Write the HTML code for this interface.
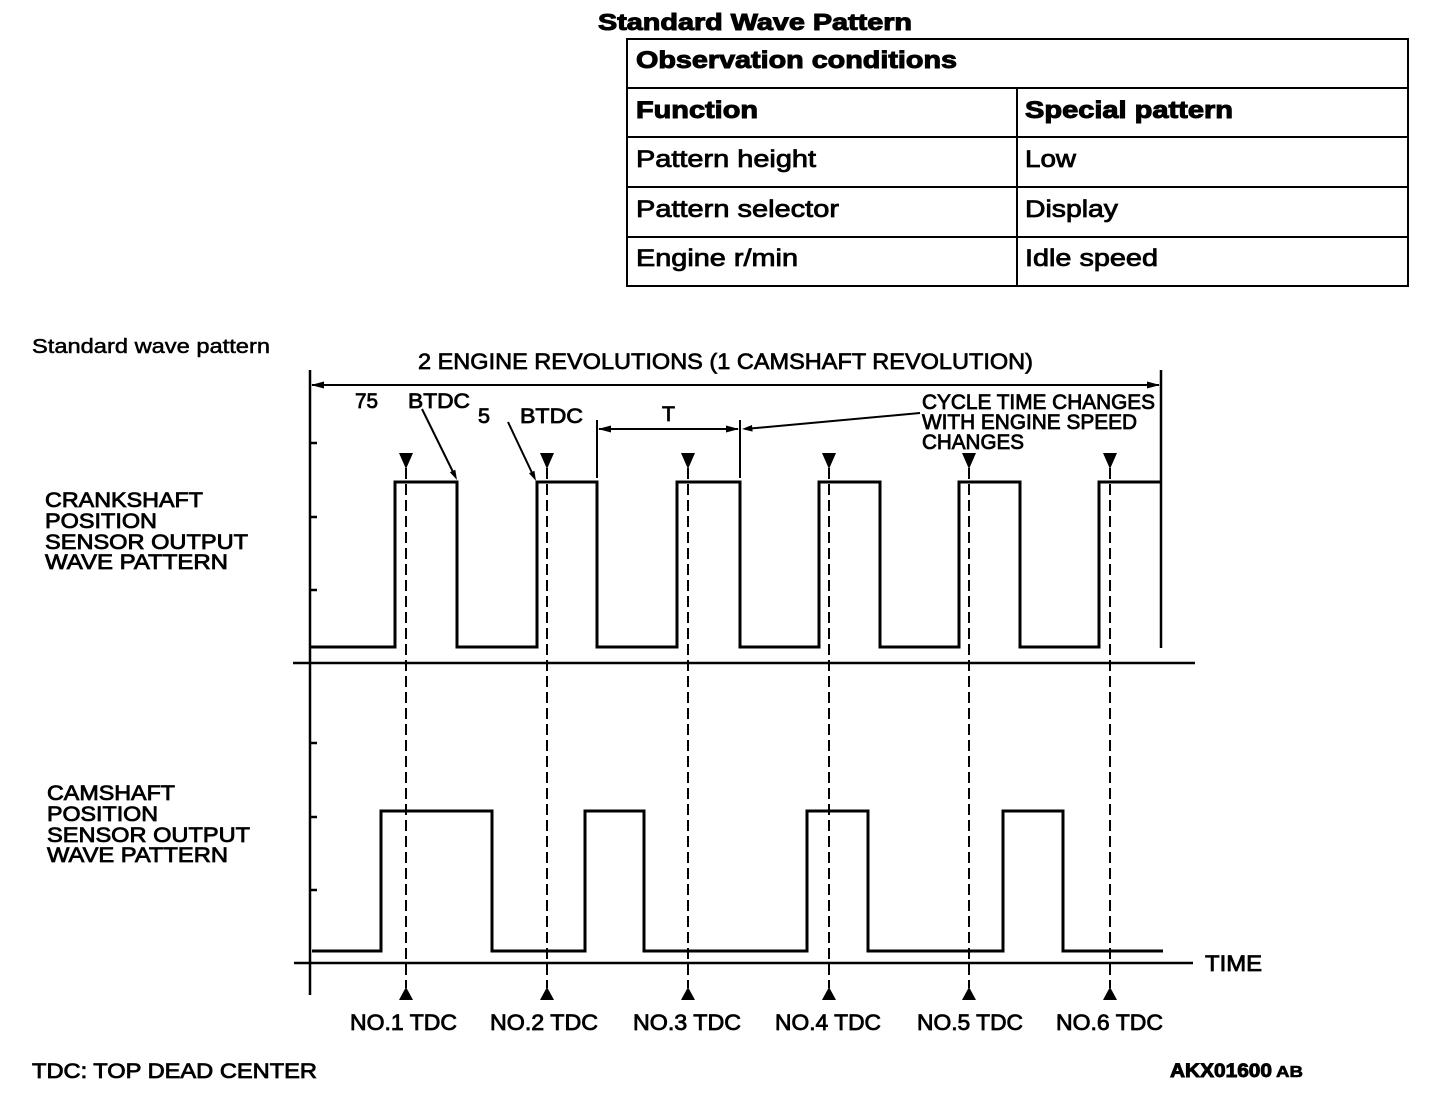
<!DOCTYPE html>
<html>
<head>
<meta charset="utf-8">
<style>
  html,body{margin:0;padding:0;background:#fff;}
  svg{display:block;}
  text{fill:#000;}
</style>
</head>
<body>
<svg width="1456" height="1104" viewBox="0 0 1456 1104" xmlns="http://www.w3.org/2000/svg" font-family="'Liberation Sans', Arial, sans-serif">
  <!-- Title -->
  <text x="598" y="30" font-size="23" font-weight="bold" stroke="#000" stroke-width="1" textLength="314" lengthAdjust="spacingAndGlyphs">Standard Wave Pattern</text>

  <!-- Table -->
  <g stroke="#000" stroke-width="2" fill="none">
    <rect x="627" y="39" width="781" height="247"/>
    <line x1="627" y1="88" x2="1408" y2="88"/>
    <line x1="627" y1="137" x2="1408" y2="137"/>
    <line x1="627" y1="187" x2="1408" y2="187"/>
    <line x1="627" y1="237" x2="1408" y2="237"/>
    <line x1="1017" y1="88" x2="1017" y2="286"/>
  </g>
  <g font-size="24">
    <text x="636" y="68" font-weight="bold" stroke="#000" stroke-width="1" textLength="321" lengthAdjust="spacingAndGlyphs">Observation conditions</text>
    <text x="636" y="118" font-weight="bold" stroke="#000" stroke-width="1" textLength="122" lengthAdjust="spacingAndGlyphs">Function</text>
    <text x="1025" y="118" font-weight="bold" stroke="#000" stroke-width="1" textLength="208" lengthAdjust="spacingAndGlyphs">Special pattern</text>
    <text x="636" y="167" stroke="#000" stroke-width="0.8" textLength="180" lengthAdjust="spacingAndGlyphs">Pattern height</text>
    <text x="1025" y="167" stroke="#000" stroke-width="0.8" textLength="51" lengthAdjust="spacingAndGlyphs">Low</text>
    <text x="636" y="217" stroke="#000" stroke-width="0.8" textLength="203" lengthAdjust="spacingAndGlyphs">Pattern selector</text>
    <text x="1025" y="217" stroke="#000" stroke-width="0.8" textLength="93" lengthAdjust="spacingAndGlyphs">Display</text>
    <text x="636" y="266" stroke="#000" stroke-width="0.8" textLength="162" lengthAdjust="spacingAndGlyphs">Engine r/min</text>
    <text x="1025" y="266" stroke="#000" stroke-width="0.8" textLength="133" lengthAdjust="spacingAndGlyphs">Idle speed</text>
  </g>

  <!-- Left labels -->
  <g font-size="20" stroke="#000" stroke-width="0.5">
    <text x="32" y="353" textLength="238" lengthAdjust="spacingAndGlyphs">Standard wave pattern</text>
  </g>
  <g font-size="21" stroke="#000" stroke-width="0.8">
    <text x="45" y="507" textLength="158" lengthAdjust="spacingAndGlyphs">CRANKSHAFT</text>
    <text x="45" y="528" textLength="112" lengthAdjust="spacingAndGlyphs">POSITION</text>
    <text x="45" y="549" textLength="203" lengthAdjust="spacingAndGlyphs">SENSOR OUTPUT</text>
    <text x="45" y="569" textLength="183" lengthAdjust="spacingAndGlyphs">WAVE PATTERN</text>

    <text x="47" y="800" textLength="128" lengthAdjust="spacingAndGlyphs">CAMSHAFT</text>
    <text x="47" y="821" textLength="111" lengthAdjust="spacingAndGlyphs">POSITION</text>
    <text x="47" y="842" textLength="203" lengthAdjust="spacingAndGlyphs">SENSOR OUTPUT</text>
    <text x="47" y="862" textLength="181" lengthAdjust="spacingAndGlyphs">WAVE PATTERN</text>

    <text x="32" y="1078" textLength="285" lengthAdjust="spacingAndGlyphs">TDC: TOP DEAD CENTER</text>
  </g>

  <!-- Top annotation -->
  <g font-size="22" stroke="#000" stroke-width="0.7">
    <text x="418" y="369" textLength="615" lengthAdjust="spacingAndGlyphs">2 ENGINE REVOLUTIONS (1 CAMSHAFT REVOLUTION)</text>
  </g>
  <g font-size="21" stroke="#000" stroke-width="0.8">
    <text x="355" y="408" textLength="23" lengthAdjust="spacingAndGlyphs">75</text>
    <text x="408" y="408" textLength="62" lengthAdjust="spacingAndGlyphs">BTDC</text>
    <text x="478" y="423" textLength="12" lengthAdjust="spacingAndGlyphs">5</text>
    <text x="520" y="423" textLength="63" lengthAdjust="spacingAndGlyphs">BTDC</text>
    <text x="662" y="421" textLength="13" lengthAdjust="spacingAndGlyphs">T</text>
    <text x="922" y="409" textLength="233" lengthAdjust="spacingAndGlyphs">CYCLE TIME CHANGES</text>
    <text x="922" y="429" textLength="215" lengthAdjust="spacingAndGlyphs">WITH ENGINE SPEED</text>
    <text x="922" y="449" textLength="102" lengthAdjust="spacingAndGlyphs">CHANGES</text>
  </g>

  <!-- Axes -->
  <g stroke="#000" stroke-width="2.5" fill="none">
    <line x1="310" y1="370" x2="310" y2="995"/>
    <line x1="293" y1="663" x2="1195" y2="663"/>
    <line x1="294" y1="963" x2="1193" y2="963"/>
    <line x1="1161" y1="370" x2="1161" y2="648"/>
    <!-- ticks -->
    <line x1="310" y1="443" x2="317" y2="443"/>
    <line x1="310" y1="517" x2="317" y2="517"/>
    <line x1="310" y1="590" x2="317" y2="590"/>
    <line x1="310" y1="743" x2="317" y2="743"/>
    <line x1="310" y1="817" x2="317" y2="817"/>
    <line x1="310" y1="890" x2="317" y2="890"/>
  </g>

  <!-- Top dimension arrow -->
  <g stroke="#000" stroke-width="2" fill="none">
    <line x1="312" y1="385" x2="1159" y2="385"/>
    <!-- T bracket -->
    <line x1="597" y1="420" x2="597" y2="478"/>
    <line x1="740" y1="420" x2="740" y2="478"/>
    <line x1="599" y1="429" x2="738" y2="429"/>
    <!-- leaders -->
    <line x1="422" y1="409" x2="455" y2="476"/>
    <line x1="508" y1="422" x2="534" y2="477"/>
    <line x1="920" y1="413" x2="745" y2="429"/>
  </g>
  <g fill="#000">
    <polygon points="311,385 324,381.5 324,388.5"/>
    <polygon points="1160,385 1147,381.5 1147,388.5"/>
    <polygon points="598,429 611,425.5 611,432.5"/>
    <polygon points="739,429 726,425.5 726,432.5"/>
    <polygon points="457,480 449.9,472.3 455.3,469.7"/>
    <polygon points="536,481 529,473.3 534.4,470.7"/>
    <polygon points="742,429 752,425 752.6,431.6"/>
  </g>

  <!-- Dashed TDC lines -->
  <g stroke="#000" stroke-width="2" stroke-dasharray="11 5" fill="none">
    <line x1="406" y1="468" x2="406" y2="988"/>
    <line x1="547" y1="468" x2="547" y2="988"/>
    <line x1="688" y1="468" x2="688" y2="988"/>
    <line x1="829" y1="468" x2="829" y2="988"/>
    <line x1="969" y1="468" x2="969" y2="988"/>
    <line x1="1110" y1="468" x2="1110" y2="988"/>
  </g>
  <!-- Down triangles -->
  <g fill="#000">
    <polygon points="399,453 413,453 406,469"/>
    <polygon points="540,453 554,453 547,469"/>
    <polygon points="681,453 695,453 688,469"/>
    <polygon points="822,453 836,453 829,469"/>
    <polygon points="962,453 976,453 969,469"/>
    <polygon points="1103,453 1117,453 1110,469"/>
    <!-- Up triangles -->
    <polygon points="399,1000 413,1000 406,987"/>
    <polygon points="540,1000 554,1000 547,987"/>
    <polygon points="681,1000 695,1000 688,987"/>
    <polygon points="822,1000 836,1000 829,987"/>
    <polygon points="962,1000 976,1000 969,987"/>
    <polygon points="1103,1000 1117,1000 1110,987"/>
  </g>

  <!-- Crankshaft waveform -->
  <path d="M310,647 H395 V482 H457 V647 H537 V482 H597 V647 H677 V482 H740 V647 H819 V482 H880 V647 H959 V482 H1020 V647 H1099 V482 H1161"
        stroke="#000" stroke-width="3" fill="none" stroke-linejoin="miter"/>

  <!-- Camshaft waveform -->
  <path d="M312,951 H381 V811 H492 V951 H585 V811 H644 V951 H807 V811 H868 V951 H1003 V811 H1063 V951 H1163"
        stroke="#000" stroke-width="3" fill="none" stroke-linejoin="miter"/>

  <!-- Bottom labels -->
  <g font-size="22" stroke="#000" stroke-width="0.8">
    <text x="350" y="1030" textLength="107" lengthAdjust="spacingAndGlyphs">NO.1 TDC</text>
    <text x="490" y="1030" textLength="108" lengthAdjust="spacingAndGlyphs">NO.2 TDC</text>
    <text x="633" y="1030" textLength="108" lengthAdjust="spacingAndGlyphs">NO.3 TDC</text>
    <text x="775" y="1030" textLength="106" lengthAdjust="spacingAndGlyphs">NO.4 TDC</text>
    <text x="917" y="1030" textLength="106" lengthAdjust="spacingAndGlyphs">NO.5 TDC</text>
    <text x="1056" y="1030" textLength="107" lengthAdjust="spacingAndGlyphs">NO.6 TDC</text>
    <text x="1205" y="971" textLength="57" lengthAdjust="spacingAndGlyphs">TIME</text>
  </g>
  <text x="1170" y="1077" font-size="19" font-weight="bold" stroke="#000" stroke-width="0.9" textLength="102" lengthAdjust="spacingAndGlyphs">AKX01600</text>
  <text x="1276" y="1077" font-size="16" font-weight="bold" stroke="#000" stroke-width="0.6" textLength="27" lengthAdjust="spacingAndGlyphs">AB</text>
</svg>
</body>
</html>
